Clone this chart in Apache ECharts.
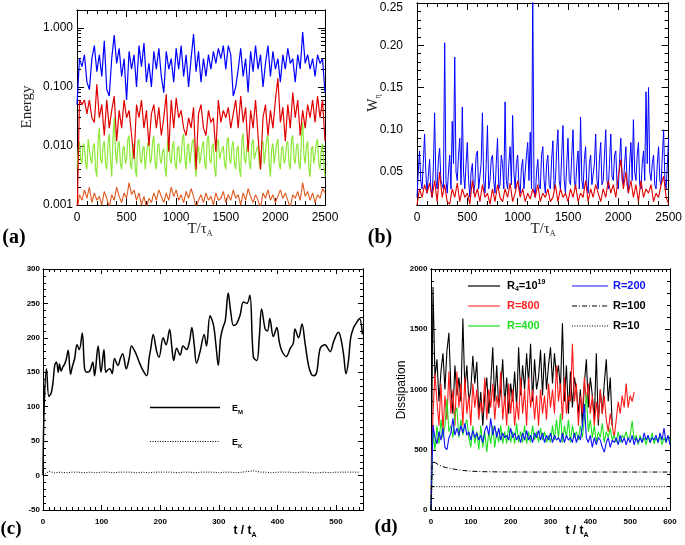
<!DOCTYPE html>
<html><head><meta charset="utf-8">
<script src="https://cdn.jsdelivr.net/npm/echarts@6/dist/echarts.min.js"></script>
<style>html,body{margin:0;padding:0;background:#fff}#c{width:685px;height:545px}</style>
</head><body><div id="c"></div>
<script>
// ---------------- Panel (a): Energy (log) vs T/tau_A ----------------
const aStep = 25;
const aBlue = [
0.05,0.3,0.22,0.35,0.12,0.09,0.3,0.5,0.18,0.35,
0.15,0.6,0.09,0.07,0.3,0.75,0.25,0.45,0.15,0.3,
0.06,0.4,0.2,0.35,0.1,0.5,0.22,0.55,0.12,0.25,
0.1,0.4,0.2,0.45,0.15,0.08,0.4,0.2,0.3,0.12,
0.45,0.2,0.5,0.15,0.35,0.1,0.3,0.78,0.18,0.4,
0.12,0.3,0.15,0.35,0.2,0.4,0.25,0.45,0.3,0.5,
0.2,0.5,0.35,0.07,0.1,0.2,0.45,0.15,0.3,0.08,
0.4,0.18,0.5,0.2,0.35,0.1,0.25,0.5,0.15,0.4,
0.2,0.3,0.12,0.35,0.2,0.45,0.25,0.3,0.12,0.35,
0.2,0.85,0.25,0.35,0.2,0.3,0.15,0.35,0.25,0.3,
0.08];
const aRed = [
0.0005,0.06,0.05,0.06,0.035,0.06,0.03,0.025,0.11,0.03,
0.05,0.015,0.06,0.02,0.04,0.07,0.012,0.04,0.02,0.06,
0.03,0.04,0.015,0.006,0.05,0.03,0.06,0.02,0.04,0.01,
0.035,0.05,0.02,0.045,0.015,0.03,0.075,0.008,0.06,0.02,
0.065,0.03,0.04,0.02,0.015,0.03,0.02,0.045,0.004,0.035,
0.05,0.02,0.015,0.04,0.025,0.03,0.008,0.06,0.025,0.04,
0.03,0.045,0.02,0.035,0.06,0.02,0.07,0.025,0.045,0.008,
0.04,0.02,0.06,0.015,0.004,0.03,0.05,0.015,0.04,0.02,
0.06,0.14,0.025,0.045,0.012,0.05,0.02,0.08,0.03,0.06,
0.015,0.04,0.02,0.05,0.03,0.06,0.025,0.07,0.03,0.06,
0.012];
const aGreenStep = 12.5;
const aGreen = [
0.004,0.009,0.012,0.006,0.005,0.011,0.01,0.005,0.004,0.013,0.014,0.006,0.005,0.01,0.011,0.004,0.003,0.012,0.02,0.006,
0.005,0.01,0.012,0.005,0.004,0.011,0.016,0.006,0.003,0.014,0.03,0.008,0.005,0.01,0.012,0.005,0.004,0.009,0.01,0.005,
0.006,0.013,0.015,0.005,0.004,0.01,0.011,0.004,0.003,0.012,0.013,0.006,0.005,0.009,0.01,0.004,0.004,0.011,0.012,0.005,
0.006,0.012,0.015,0.005,0.004,0.01,0.011,0.006,0.005,0.008,0.009,0.004,0.003,0.012,0.014,0.006,0.005,0.01,0.012,0.005,
0.004,0.009,0.01,0.005,0.006,0.013,0.016,0.006,0.004,0.01,0.011,0.005,0.005,0.012,0.013,0.005,0.003,0.008,0.01,0.005,
0.005,0.01,0.012,0.005,0.004,0.013,0.015,0.006,0.005,0.01,0.011,0.004,0.003,0.011,0.013,0.006,0.006,0.009,0.01,0.005,
0.004,0.012,0.014,0.006,0.005,0.01,0.012,0.005,0.004,0.009,0.01,0.004,0.003,0.013,0.016,0.006,0.005,0.01,0.011,0.005,
0.004,0.011,0.013,0.006,0.006,0.009,0.01,0.005,0.004,0.011,0.012,0.005,0.005,0.013,0.015,0.005,0.003,0.009,0.011,0.005,
0.005,0.011,0.013,0.005,0.004,0.009,0.01,0.005,0.006,0.011,0.012,0.005,0.004,0.013,0.015,0.006,0.005,0.01,0.011,0.005,
0.004,0.014,0.025,0.007,0.005,0.01,0.012,0.004,0.003,0.009,0.01,0.005,0.005,0.011,0.013,0.005,0.004,0.009,0.011,0.005,
0.003];
const aOrange = [
0.0008,0.0015,0.0012,0.0018,0.0013,0.002,0.0011,0.0016,0.0012,0.0014,
0.001,0.0017,0.0013,0.0009,0.0015,0.0012,0.002,0.0014,0.0011,0.0016,
0.0013,0.0024,0.0015,0.0018,0.0012,0.0016,0.001,0.0014,0.0009,0.0013,
0.0011,0.0016,0.0012,0.0018,0.0014,0.0011,0.0016,0.0012,0.002,0.0014,
0.0018,0.0012,0.0015,0.0011,0.0017,0.0013,0.0019,0.0014,0.0009,0.0012,
0.0015,0.0011,0.0016,0.0012,0.0014,0.001,0.0016,0.0012,0.0013,0.0017,
0.0011,0.0015,0.0012,0.0018,0.0013,0.0015,0.001,0.0016,0.0012,0.0019,
0.0014,0.0011,0.0015,0.0012,0.0009,0.0016,0.0013,0.0018,0.0012,0.0015,
0.0011,0.0014,0.0018,0.0013,0.0016,0.0012,0.0009,0.0015,0.0013,0.0017,
0.0012,0.0024,0.0014,0.0017,0.0012,0.0016,0.0011,0.0015,0.0013,0.0019,
0.0016];
const aXTicks = [0, 500, 1000, 1500, 2000, 2500];
const aYTicks = [0.001, 0.01, 0.1, 1];

// ---------------- Panel (b): W_eta vs T/tau_A ----------------
const bBlueStep = 12.5;
const bBlue = [
0.02,0.05,0.075,0.04,0.03,0.06,0.095,0.05,0.025,0.045,0.065,0.03,0.02,0.055,0.12,0.04,0.03,0.065,0.078,0.04,
0.035,0.03,0.203,0.04,0.025,0.05,0.07,0.03,0.11,0.06,0.186,0.05,0.04,0.07,0.09,0.035,0.127,0.05,0.03,0.06,
0.085,0.04,0.02,0.05,0.06,0.025,0.035,0.07,0.075,0.03,0.03,0.06,0.12,0.04,0.025,0.06,0.105,0.03,0.04,0.065,
0.07,0.04,0.025,0.06,0.09,0.03,0.035,0.07,0.06,0.03,0.133,0.04,0.03,0.06,0.08,0.035,0.117,0.05,0.03,0.06,
0.07,0.035,0.025,0.055,0.065,0.03,0.03,0.07,0.085,0.04,0.097,0.03,0.26,0.03,0.02,0.05,0.065,0.035,0.03,0.07,
0.08,0.04,0.025,0.06,0.07,0.035,0.03,0.065,0.087,0.03,0.04,0.075,0.1,0.04,0.03,0.07,0.105,0.04,0.025,0.06,
0.09,0.04,0.035,0.07,0.1,0.04,0.03,0.06,0.075,0.03,0.115,0.04,0.03,0.065,0.08,0.035,0.025,0.06,0.07,0.035,
0.035,0.06,0.095,0.04,0.03,0.065,0.085,0.035,0.04,0.07,0.1,0.04,0.03,0.06,0.095,0.045,0.04,0.07,0.075,0.035,
0.03,0.065,0.09,0.04,0.035,0.06,0.08,0.035,0.025,0.06,0.085,0.04,0.112,0.05,0.04,0.07,0.085,0.035,0.03,0.06,
0.075,0.04,0.145,0.06,0.15,0.05,0.04,0.06,0.07,0.035,0.03,0.06,0.08,0.04,0.035,0.07,0.1,0.04,0.03,0.06,
0.09];
const bRedStep = 25;
const bRed = [
0.011,0.03,0.02,0.035,0.025,0.037,0.02,0.04,0.015,0.05,
0.02,0.035,0.015,0.012,0.03,0.02,0.037,0.015,0.03,0.02,
0.025,0.012,0.04,0.02,0.03,0.015,0.035,0.02,0.025,0.012,
0.03,0.015,0.035,0.02,0.015,0.03,0.02,0.037,0.015,0.025,
0.04,0.02,0.03,0.015,0.025,0.018,0.03,0.02,0.035,0.015,
0.025,0.02,0.03,0.015,0.02,0.035,0.015,0.03,0.02,0.025,
0.015,0.03,0.02,0.035,0.015,0.025,0.02,0.04,0.015,0.03,
0.02,0.035,0.025,0.015,0.03,0.02,0.04,0.025,0.035,0.02,
0.045,0.065,0.03,0.05,0.025,0.04,0.02,0.035,0.015,0.04,
0.02,0.03,0.025,0.035,0.015,0.025,0.02,0.035,0.045,0.02,
0.012];
const bXTicks = [0, 500, 1000, 1500, 2000, 2500];
const bYTicks = [0.05, 0.10, 0.15, 0.20, 0.25];

// ---------------- Panel (c): E_M, E_K vs t/t_A ----------------
const cT_EM = [0,2,6,10,14,17,20,23,26,28,31,34,37,40,43,47,50,54,58,62,67,71,75,80,85,88,94,99,104,107,110,114,118,122,128,132,136,142,147,151,157,161,165,171,177,181,184,188,194,198,205,210,216,220,223,228,234,239,245,250,254,258,262,268,275,279,285,291,295,299,303,307,311,316,320,325,330,336,342,348,353,359,365,369,373,379,383,387,393,399,403,407,415,422,427,430,436,442,447,453,458,462,467,473,481,490,496,504,508,513,517,521,525,530,535,540,545];
const cEM = [0,100,155,115,120,135,160,165,150,162,152,158,162,170,182,147,158,170,190,183,207,155,150,152,165,145,188,150,183,150,153,155,148,170,160,170,177,155,170,188,180,172,163,152,145,170,185,205,180,172,200,190,212,185,167,185,175,188,183,195,215,190,163,180,205,188,232,218,190,160,200,215,225,265,240,218,220,232,252,250,262,172,167,200,242,213,210,228,202,215,195,182,173,185,192,213,200,220,193,160,147,145,150,185,190,180,195,208,200,175,148,165,200,215,222,228,205];
const cStepEK = 10;
const cEK = [0,6,4,5,4,5,5,4,5,4, 5,5,4,5,5,5,4,5,4,5, 5,5,5,4,5,5,4,5,5,5, 4,5,5,4,5,6,7,5,5,4, 5,5,5,4,5,5,4,4,5,4, 5,5,5,5,5];
const cXTicks = [0, 100, 200, 300, 400, 500];
const cYTicks = [-50, 0, 50, 100, 150, 200, 250, 300];

// ---------------- Panel (d): Dissipation vs t/t_A ----------------
const dStep = 5;
const dR4 = [
0,1850,1100,1250,900,1150,1300,1000,1320,1470,
1000,800,1200,950,1100,900,1590,1000,1200,900,
1000,1280,1050,1230,800,980,700,950,1100,800,
1050,1350,900,1200,850,1000,1250,880,1100,800,
1050,900,1150,850,1350,950,1200,1000,1300,1050,
1380,900,1250,1000,1100,1330,950,1300,1000,1200,
1350,1050,1300,1100,1200,1000,1550,900,1200,800,
1150,850,1100,1000,800,1000,700,1050,1250,850,
1100,950,750,1300,700,1000,800,1050,1250,900,
1100,700];
const dR800 = [
0,800,1130,900,700,1050,650,950,750,1150,
800,1000,700,1150,850,1050,700,1100,800,950,
700,1050,850,1000,750,900,800,1100,750,1000,
850,1050,750,950,850,1150,750,950,700,1050,
800,1000,700,900,750,1100,800,1000,700,1100,
850,1000,750,950,700,1000,800,950,750,1050,
850,1000,800,1200,900,1050,750,1100,800,950,
900,1380,900,1050,700,950,800,1100,900,1050,
800,950,700,900,750,1000,800,950,750,650,
800,700,600,750,900,800,950,850,1050,850,
950,900,980];
const dR400 = [
0,650,500,700,550,750,600,700,920,650,
700,600,800,850,600,750,620,700,750,600,
520,700,550,650,500,700,520,650,480,650,
550,700,520,650,560,700,550,650,550,700,
560,650,550,720,560,650,560,700,550,650,
560,700,580,650,560,680,580,650,560,620,
560,700,580,750,600,800,560,700,600,750,
560,700,600,650,580,700,600,750,960,650,
750,600,700,560,650,600,720,560,650,600,
680,580,620,560,650,560,620,600,650,580,
620,740,580,620,540,620,560,600,540,620,
560,640,550,600,560,620,540,600,560,620,
560];
const dR200 = [
0,700,600,550,650,580,680,520,500,600,
640,760,620,680,620,700,640,720,620,650,
580,660,600,640,580,620,560,660,700,620,
760,620,700,600,680,580,640,600,620,580,
680,600,640,580,620,560,640,580,660,580,
620,560,640,600,660,580,640,560,620,580,
640,560,620,580,600,560,640,560,620,580,
600,560,640,560,620,580,700,880,600,560,
620,520,600,540,600,580,520,480,560,600,
520,580,560,600,540,620,560,600,540,600,
560,620,540,600,560,600,560,640,580,620,
560,600,580,620,560,640,580,680,560,620,
540];
const dT_R100 = [0,3,5,10,15,20,30,40,60,80,100,130,170,250,600];
const dR100 = [0,400,415,395,382,372,360,350,338,328,322,318,316,315,315];
const dT_R10 = [0,2,3,600];
const dR10 = [0,150,193,193];
const dXTicks = [0, 100, 200, 300, 400, 500, 600];
const dYTicks = [0, 500, 1000, 1500, 2000];

// ---------------- helpers ----------------
const uni = (arr, step) => arr.map((v, i) => [i * step, v]);
const zip = (xs, ys) => xs.map((x, i) => [x, ys[i]]);
function minorLinear(min, max, step, majors) {
  const out = [];
  const n = Math.round((max - min) / step);
  for (let i = 0; i <= n; i++) {
    const v = +(min + i * step).toFixed(6);
    if (v > max) break;
    if (!majors.some(m => Math.abs(m - v) < step / 100)) out.push(v);
  }
  return out;
}
function minorLog(decades, max) {
  const out = [];
  decades.forEach(d => { for (let k = 2; k <= 9; k++) { const v = +(d * k).toPrecision(3); if (v <= max) out.push(v); } });
  return out;
}

function axes(dim, gi, o) {
  const pos = dim === 'x' ? ['bottom', 'top'] : ['left', 'right'];
  const mk = (p, vals, len, withLabels) => ({
    type: o.type || 'value', gridIndex: gi, position: p, min: o.min, max: o.max,
    logBase: 10,
    axisLine: { show: true, onZero: false, lineStyle: { color: '#000', width: 1 } },
    axisTick: { show: true, inside: true, length: len, customValues: vals, lineStyle: { color: '#000', width: 1 } },
    axisLabel: withLabels ? Object.assign({ show: true, customValues: o.major, formatter: o.fmt, margin: o.margin, color: '#000',
      hideOverlap: false }, o.font) : { show: false },
    splitLine: { show: false }, minorTick: { show: false }, minorSplitLine: { show: false }, splitArea: { show: false }
  });
  return [mk(pos[0], o.major, o.majorLen, true), mk(pos[1], o.major, o.majorLen, false),
          mk(pos[0], o.minor, o.minorLen, false), mk(pos[1], o.minor, o.minorLen, false)];
}

const fontAB = { fontFamily: 'Liberation Sans', fontSize: 12 };
const fontCD = { fontFamily: 'Liberation Sans', fontSize: 8, fontWeight: 'bold' };

const grids = [
  { left: 77, top: 10, width: 248, height: 195 },
  { left: 417, top: 3, width: 253, height: 202 },
  { left: 43, top: 269, width: 320, height: 241 },
  { left: 431, top: 269, width: 239, height: 241 }
];

const xAxes = [].concat(
  axes('x', 0, { min: 0, max: 2500, major: aXTicks, minor: minorLinear(0, 2500, 100, aXTicks), fmt: v => String(v), margin: 7, font: fontAB, majorLen: 7, minorLen: 4 }),
  axes('x', 1, { min: 0, max: 2500, major: bXTicks, minor: minorLinear(0, 2500, 100, bXTicks), fmt: v => String(v), margin: 7, font: fontAB, majorLen: 7, minorLen: 4 }),
  axes('x', 2, { min: 0, max: 546, major: cXTicks, minor: minorLinear(0, 546, 10, cXTicks), fmt: v => String(v), margin: 8, font: fontCD, majorLen: 5, minorLen: 3 }),
  axes('x', 3, { min: 0, max: 600, major: dXTicks, minor: minorLinear(0, 600, 10, dXTicks), fmt: v => String(v), margin: 8, font: fontCD, majorLen: 5, minorLen: 3 })
);
const yAxes = [].concat(
  axes('y', 0, { type: 'log', min: 0.001, max: 2, major: aYTicks, minor: minorLog(aYTicks, 2), fmt: v => Number(v).toFixed(3), margin: 4, font: fontAB, majorLen: 7, minorLen: 4 }),
  axes('y', 1, { min: 0.011, max: 0.25, major: bYTicks, minor: minorLinear(0.02, 0.25, 0.01, bYTicks), fmt: v => (Math.abs(v - 0.25) < 1e-6 ? '{t|0.25}' : Number(v).toFixed(2)), margin: 14, font: Object.assign({ rich: { t: { fontFamily: 'Liberation Sans', fontSize: 12, color: '#000', padding: [10, 0, 0, 0] } } }, fontAB), majorLen: 7, minorLen: 4 }),
  axes('y', 2, { min: -50, max: 300, major: cYTicks, minor: minorLinear(-50, 300, 10, cYTicks), fmt: v => String(v), margin: 3, font: fontCD, majorLen: 5, minorLen: 3 }),
  axes('y', 3, { min: 0, max: 2000, major: dYTicks, minor: minorLinear(0, 2000, 100, dYTicks), fmt: v => String(v), margin: 3.5, font: fontCD, majorLen: 5, minorLen: 3 })
);

function line(p, data, color, width, extra) {
  return Object.assign({ type: 'line', xAxisIndex: 4 * p, yAxisIndex: 4 * p, data: data, showSymbol: false, symbol: 'none',
    lineStyle: { color: color, width: width }, silent: true, animation: false, clip: true }, extra || {});
}

const series = [
  line(0, uni(aOrange, aStep), '#e0581e', 1.1),
  line(0, uni(aGreen, aGreenStep), '#8ee83a', 1.2),
  line(0, uni(aRed, aStep), '#e00000', 1.2),
  line(0, uni(aBlue, aStep), '#0000ff', 1.2),
  line(1, uni(bBlue, bBlueStep), '#0000ff', 1),
  line(1, uni(bRed, bRedStep), '#e00000', 1.1),
  line(2, zip(cT_EM, cEM), '#000', 1.5, { smooth: 0.35 }),
  line(2, uni(cEK, cStepEK), '#000', 1, { lineStyle: { color: '#000', width: 1, type: [1, 1.5] } }),
  line(3, uni(dR4, dStep), '#000', 1.1),
  line(3, uni(dR800, dStep), '#ff1a1a', 1.1),
  line(3, uni(dR400, dStep), '#1ee01e', 1.1),
  line(3, uni(dR200, dStep), '#1010ff', 1.1),
  line(3, zip(dT_R100, dR100), '#000', 1, { lineStyle: { color: '#000', width: 1, type: [5, 2, 1, 2] } }),
  line(3, zip(dT_R10, dR10), '#000', 1, { lineStyle: { color: '#000', width: 1, type: [1, 1.5] } })
];

const serif = 'Liberation Serif';
const sans = 'Liberation Sans';
function txt(x, y, text, o) {
  return Object.assign({ type: 'text', x: x, y: y, silent: true,
    style: Object.assign({ text: text, fill: '#000', align: 'center', verticalAlign: 'middle' }, o.style) }, o.el || {});
}
function seg(x1, y1, x2, y2, color, w, dash) {
  return { type: 'line', silent: true, shape: { x1: x1, y1: y1, x2: x2, y2: y2 }, style: { stroke: color, lineWidth: w, lineDash: dash || null } };
}
const subSerif = { s: { fontFamily: serif, fontSize: 8, fill: '#222', padding: [9, 0, 0, 0] } };
const graphics = [
  txt(27, 107, 'Energy', { style: { fontFamily: serif, fontSize: 15, fill: '#222' }, el: { rotation: Math.PI / 2 } }),
  txt(200, 229, 'T/τ{s|A}', { style: { fontFamily: serif, fontSize: 15, fill: '#222', rich: subSerif } }),
  txt(14, 238, '(a)', { style: { fontFamily: serif, fontSize: 20, fontWeight: 'bold' } }),
  txt(373, 103, 'W{s|η}', { style: { fontFamily: serif, fontSize: 14, fill: '#222', rich: subSerif }, el: { rotation: Math.PI / 2 } }),
  txt(543, 229, 'T/τ{s|A}', { style: { fontFamily: serif, fontSize: 15, fill: '#222', rich: subSerif } }),
  txt(380, 238, '(b)', { style: { fontFamily: serif, fontSize: 20, fontWeight: 'bold' } }),
  txt(245, 531, 't / t{s|A}', { style: { fontFamily: sans, fontSize: 12, fontWeight: 'bold', rich: { s: { fontFamily: sans, fontSize: 7, fontWeight: 'bold', padding: [8, 0, 0, 0] } } } }),
  txt(11, 529, '(c)', { style: { fontFamily: serif, fontSize: 19, fontWeight: 'bold' } }),
  txt(577, 531, 't / t{s|A}', { style: { fontFamily: sans, fontSize: 12, fontWeight: 'bold', rich: { s: { fontFamily: sans, fontSize: 7, fontWeight: 'bold', padding: [8, 0, 0, 0] } } } }),
  txt(386, 527, '(d)', { style: { fontFamily: serif, fontSize: 19, fontWeight: 'bold' } }),
  txt(402, 390, 'Dissipation', { style: { fontFamily: sans, fontSize: 12 }, el: { rotation: Math.PI / 2 } }),
  // legend (c)
  seg(150, 407.5, 220, 407.5, '#000', 1.5),
  txt(232, 409, 'E{s|M}', { style: { fontFamily: sans, fontSize: 9, fontWeight: 'bold', align: 'left', rich: { s: { fontFamily: sans, fontSize: 6, fontWeight: 'bold', padding: [6, 0, 0, 0] } } } }),
  seg(150, 441.5, 220, 441.5, '#000', 1, [1, 1.5]),
  txt(232, 443, 'E{s|K}', { style: { fontFamily: sans, fontSize: 9, fontWeight: 'bold', align: 'left', rich: { s: { fontFamily: sans, fontSize: 6, fontWeight: 'bold', padding: [6, 0, 0, 0] } } } }),
  // legend (d)
  seg(468, 286, 500, 286, '#000', 1.2),
  txt(507, 286, 'R{s|4}=10{p|19}', { style: { fontFamily: sans, fontSize: 11, fontWeight: 'bold', align: 'left', rich: {
    s: { fontFamily: sans, fontSize: 7, fontWeight: 'bold', padding: [7, 0, 0, 0] },
    p: { fontFamily: sans, fontSize: 7, fontWeight: 'bold', padding: [0, 0, 8, 0] } } } }),
  seg(572, 286, 608, 286, '#1010ff', 1.2),
  txt(613, 286, 'R=200', { style: { fontFamily: sans, fontSize: 11, fontWeight: 'bold', fill: '#1010ff', align: 'left' } }),
  seg(468, 306, 500, 306, '#ff3a3a', 1.2),
  txt(507, 306, 'R=800', { style: { fontFamily: sans, fontSize: 11, fontWeight: 'bold', fill: '#ff2020', align: 'left' } }),
  seg(572, 306, 608, 306, '#000', 1, [5, 2, 1, 2]),
  txt(613, 306, 'R=100', { style: { fontFamily: sans, fontSize: 11, fontWeight: 'bold', align: 'left' } }),
  seg(468, 326, 500, 326, '#1ee01e', 1.2),
  txt(507, 326, 'R=400', { style: { fontFamily: sans, fontSize: 11, fontWeight: 'bold', fill: '#1ee01e', align: 'left' } }),
  seg(572, 326, 608, 326, '#000', 1, [1, 1.5]),
  txt(613, 326, 'R=10', { style: { fontFamily: sans, fontSize: 11, fontWeight: 'bold', align: 'left' } })
];

const chart = echarts.init(document.getElementById('c'), null, { renderer: 'canvas' });
chart.setOption({
  animation: false,
  backgroundColor: '#fff',
  grid: grids,
  xAxis: xAxes,
  yAxis: yAxes,
  series: series,
  graphic: graphics
});
</script>
</body></html>
